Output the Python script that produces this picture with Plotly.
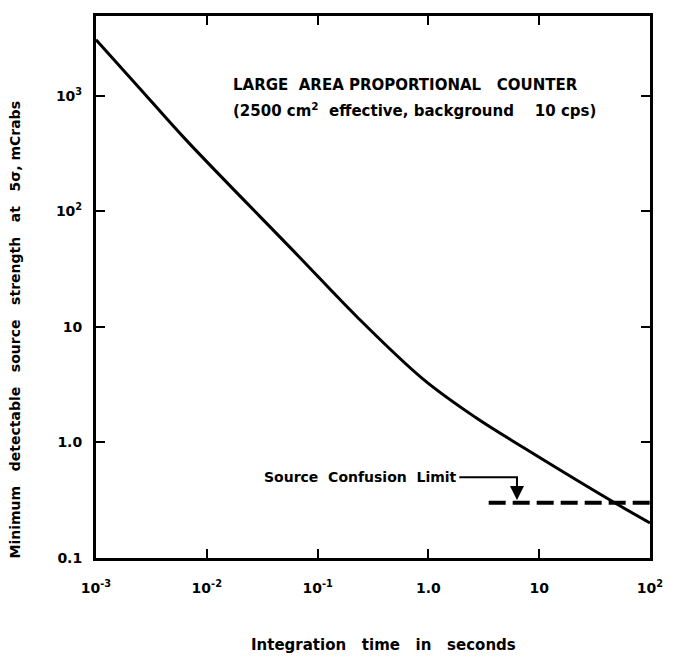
import numpy as np
import plotly.graph_objects as go

# Curve: minimum detectable source strength (mCrab) vs integration time (s)
time_s = [0.001, 0.00245, 0.00646, 0.066, 0.225, 0.89, 2.63, 7.38, 46.8, 100]
strength = [3055, 1175, 417, 41.7, 12.3, 3.55, 1.66, 0.891, 0.305, 0.201]

# Source confusion limit
confusion_limit = 0.30
confusion_x = [3.5, 100]
arrow_time = 6.3
label_level = 0.5
label_end_time = 1.9

x_tickvals = [1e-3, 1e-2, 1e-1, 1, 10, 100]
x_ticktext = ["10<sup>-3</sup>", "10<sup>-2</sup>", "10<sup>-1</sup>", "1.0", "10", "10<sup>2</sup>"]
y_tickvals = [0.1, 1, 10, 100, 1000]
y_ticktext = ["0.1", "1.0", "10", "10<sup>2</sup>", "10<sup>3</sup>"]

FONT = "DejaVu Sans, Liberation Sans, sans-serif"

fig = go.Figure()
fig.add_trace(go.Scatter(x=time_s, y=strength, mode="lines",
                         line=dict(color="black", width=3, shape="spline", smoothing=1.0),
                         showlegend=False, hoverinfo="skip"))
fig.add_trace(go.Scatter(x=confusion_x, y=[confusion_limit] * 2, mode="lines",
                         line=dict(color="black", width=4, dash="17px,7px"),
                         showlegend=False, hoverinfo="skip"))
fig.add_trace(go.Scatter(x=[label_end_time, arrow_time, arrow_time],
                         y=[label_level, label_level, label_level * 0.8], mode="lines",
                         line=dict(color="black", width=2),
                         showlegend=False, hoverinfo="skip"))

fig.add_annotation(x=np.log10(arrow_time), y=np.log10(confusion_limit * 1.06),
                   ax=np.log10(arrow_time), ay=np.log10(label_level * 0.8),
                   axref="x", ayref="y", xref="x", yref="y", text="",
                   showarrow=True, arrowhead=2, arrowsize=1.4, arrowwidth=2, arrowcolor="black")
fig.add_annotation(x=np.log10(label_end_time), y=np.log10(label_level), xref="x", yref="y",
                   text="Source&nbsp;&nbsp;Confusion&nbsp;&nbsp;Limit", showarrow=False,
                   xanchor="right", yanchor="middle",
                   font=dict(family=FONT, size=14, color="black", weight="bold"))

fig.add_annotation(x=0.244, y=0.873, xref="paper", yref="paper", xanchor="left", yanchor="middle",
                   text="LARGE&nbsp;&nbsp;AREA&nbsp;PROPORTIONAL&nbsp;&nbsp;&nbsp;COUNTER", showarrow=False,
                   font=dict(family=FONT, size=15, color="black", weight="bold"))
fig.add_annotation(x=0.244, y=0.827, xref="paper", yref="paper", xanchor="left", yanchor="middle",
                   text="(2500 cm<sup>2</sup>&nbsp;&nbsp;effective, background&nbsp;&nbsp;&nbsp;&nbsp;10 cps)",
                   showarrow=False,
                   font=dict(family=FONT, size=15, color="black", weight="bold"))

fig.add_annotation(x=-0.146, y=0.42, xref="paper", yref="paper", textangle=-90,
                   text="Minimum&nbsp;&nbsp;&nbsp;detectable&nbsp;&nbsp;&nbsp;source&nbsp;&nbsp;&nbsp;strength&nbsp;&nbsp;&nbsp;at&nbsp;&nbsp;&nbsp;5σ, mCrabs",
                   showarrow=False, xanchor="center", yanchor="middle",
                   font=dict(family=FONT, size=14, color="black", weight="bold"))
fig.add_annotation(x=0.519, y=-0.16, xref="paper", yref="paper",
                   text="Integration&nbsp;&nbsp;&nbsp;time&nbsp;&nbsp;&nbsp;in&nbsp;&nbsp;&nbsp;seconds",
                   showarrow=False, xanchor="center", yanchor="middle",
                   font=dict(family=FONT, size=15, color="black", weight="bold"))

axis_common = dict(showline=True, linecolor="black", linewidth=3, mirror="ticks",
                   ticks="inside", ticklen=9, tickwidth=2, tickcolor="black",
                   showgrid=False, zeroline=False,
                   tickfont=dict(family=FONT, size=14, color="black", weight="bold"))

fig.update_xaxes(type="log", range=[-3, 2], tickvals=x_tickvals, ticktext=x_ticktext,
                 ticklabelstandoff=15, **axis_common)
fig.update_yaxes(type="log", range=[-1, 3.69], tickvals=y_tickvals, ticktext=y_ticktext,
                 ticklabelstandoff=8, **axis_common)

fig.update_layout(width=675, height=658, margin=dict(l=96, r=18, t=16, b=100),
                  plot_bgcolor="white", paper_bgcolor="white", showlegend=False)

fig.write_html("out.html")
